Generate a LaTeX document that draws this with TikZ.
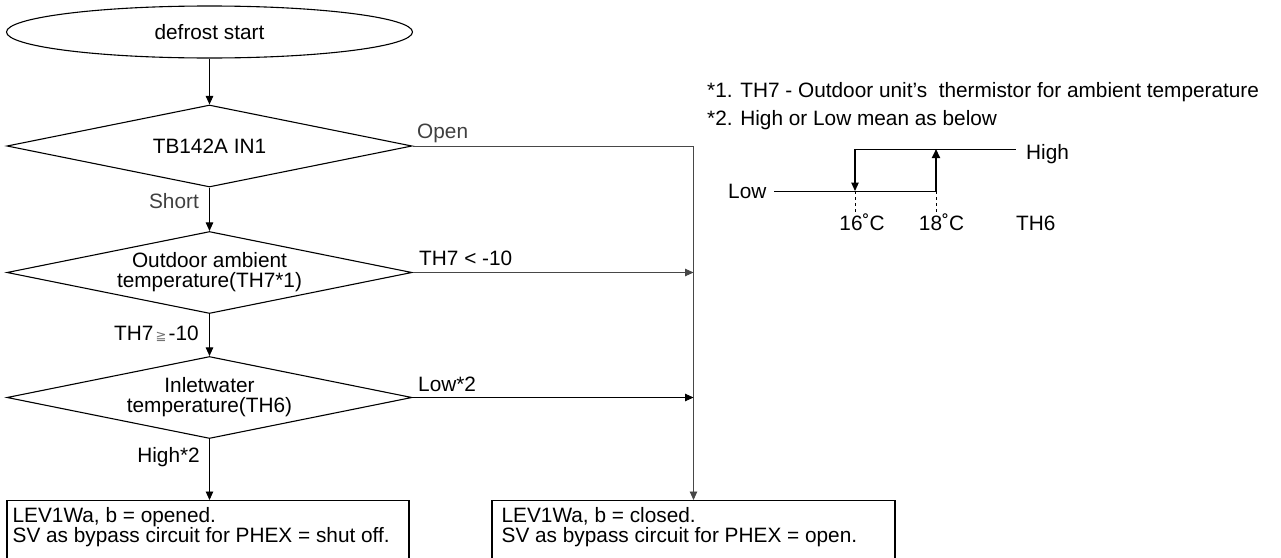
\documentclass[tikz,border=0pt]{standalone}
\usepackage{fontspec}
\setmainfont{Liberation Sans}
\newfontfamily\symfont{DejaVu Sans}
\usetikzlibrary{shapes.geometric,arrows.meta,calc}
\begin{document}
\begin{tikzpicture}[x=1pt,y=-1pt,
  every node/.style={font=\fontsize{20.8}{20}\selectfont, inner sep=0pt},
  shapebox/.style={draw, line width=1.1pt},
  dia/.style={shapebox, diamond, aspect=4.94, minimum width=405pt, minimum height=82pt, align=center},
  conn/.style={line width=0.9pt, -{Triangle[length=8.5pt,width=7.5pt]}},
  gconn/.style={conn, draw=black!72},
  plain/.style={line width=0.9pt},
  lab/.style={anchor=base west},
  rlab/.style={anchor=base east},
  glab/.style={anchor=base west, text=black!75},
  actbox/.style={draw, line width=1.1pt, minimum height=62pt, anchor=north},
]
\useasboundingbox (0,0) rectangle (1281,557);

% flowchart nodes
\node[shapebox, ellipse, minimum width=406pt, minimum height=52pt] (start) at (209.5,32) {defrost start};
\node[dia] (d1) at (209.5,146) {TB142A IN1};
\node[dia] (d2) at (209.5,272.5) {Outdoor ambient\\temperature(TH7*1)};
\node[dia] (d3) at (209.5,397.5) {Inletwater\\temperature(TH6)};
\node[actbox, minimum width=402pt] (box1) at (208,500) {};
\node[actbox, minimum width=403pt] (box2) at (693.5,500) {};

\node[lab] (b1a) at ($(box1.north west)+(6,22)$) {LEV1Wa, b = opened.};
\node[lab] (b1b) at ($(box1.north west)+(6,42)$) {SV as bypass circuit for PHEX = shut off.};
\node[lab] (b2a) at ($(box2.north west)+(10,22)$) {LEV1Wa, b = closed.};
\node[lab] (b2b) at ($(box2.north west)+(10,42)$) {SV as bypass circuit for PHEX = open.};

% connectors
\draw[conn] (start) -- (d1);
\draw[conn] (d1) -- (d2);
\draw[conn] (d2) -- (d3);
\draw[conn] (d3.south) -- (d3.south |- box1.north);
\draw[gconn] (d1.east) -- (d1.east -| box2.north) -- (box2.north);
\draw[gconn] (d2.east) -- (d2.east -| box2.north);
\draw[conn] (d3.east) -- (d3.east -| box2.north);

% connector labels
\node[glab] (lopen) at (417,138) {Open};
\node[glab, anchor=base east] (lshort) at (199,208) {Short};
\node[lab] (lth7a) at (419,265) {TH7 < -10};
\node[rlab] (lth7b) at (199,340) {TH7{\symfont\fontsize{13}{13}\selectfont\color{black!55}\,≧\,}-10};
\node[lab] (llow) at (418,391) {Low*2};
\node[rlab] (lhigh) at (200,462) {High*2};

% notes
\node[lab] (n1) at (707,97.7) {*1. TH7 - Outdoor unit{\char"0027}s\ \ thermistor for ambient temperature};
\node[lab] (n2) at (707,125) {*2. High or Low mean as below};

% hysteresis chart
\coordinate (lo1) at (774,191);
\coordinate (lo2) at (936,191);
\coordinate (hi1) at (855,149);
\coordinate (hi2) at (1016,149);
\coordinate (p16) at (855,191);
\coordinate (p18) at (936,149);
\node[lab] (tlow) at (728,198) {Low};
\node[lab] (thigh) at (1026,159) {High};
\node[anchor=base] (t16) at (862,230) {16˚C};
\node[anchor=base] (t18) at (941.5,230) {18˚C};
\node[lab] (tth6) at (1016,230) {TH6};
\draw[plain] (lo1) -- (lo2);
\draw[plain] (hi1) -- (hi2);
\draw[conn, line width=1.1pt] (hi1) -- (p16);
\draw[conn, line width=1.8pt, -{Triangle[length=9pt,width=8pt]}] (lo2) -- (p18);
\draw[plain, dash pattern=on 3pt off 3pt] (p16) -- ++(0,21);
\draw[plain, dash pattern=on 3pt off 3pt] (lo2) -- ++(0,21);
\end{tikzpicture}
\end{document}
